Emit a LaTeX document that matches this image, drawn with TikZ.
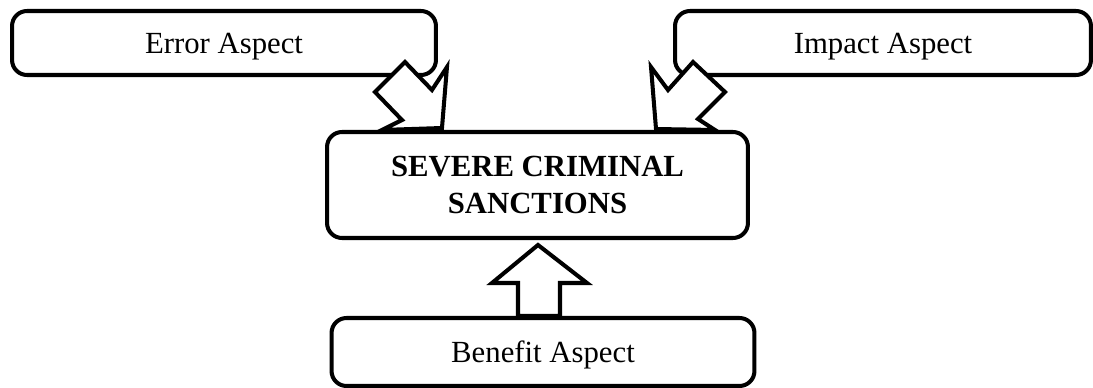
\documentclass[tikz,border=0pt]{standalone}
\usepackage{fontspec}
\setmainfont{Liberation Serif}
\usetikzlibrary{positioning}

\begin{document}
\begin{tikzpicture}[
    x=0.02cm, y=-0.02cm,
    aspectbox/.style={rectangle, rounded corners=0.3cm, draw=black, line width=2.3pt, minimum width=8.48cm, minimum height=1.28cm, inner sep=0pt, text depth=0pt, font=\fontsize{17.5}{21}\selectfont},
    mainbox/.style={aspectbox, minimum width=8.42cm, minimum height=2.12cm, align=center, font=\fontsize{17.5}{21}\selectfont\bfseries},
    blockarrow/.style={draw=black, fill=white, line width=2.3pt, line join=miter},
]
\useasboundingbox (0,0) rectangle (1093,388);
\node[aspectbox](error) at (224,43){Error Aspect};
\node[aspectbox, minimum width=8.32cm](impact) at (883,43){Impact Aspect};
\node[mainbox](sanctions) at (537.5,185){SEVERE CRIMINAL\\SANCTIONS};
\node[aspectbox, minimum width=8.46cm, minimum height=1.36cm](benefit) at (543,352){Benefit Aspect};
% block arrows into the main box
\draw[blockarrow, shift={(error.south east)}] (-33,-15) -- (-6,13) -- (9,-10) -- (4,51) -- (-56,53) -- (-36,43) -- (-63,15) -- cycle;
\draw[blockarrow, shift={(impact.south west)}] (20,-15) -- (-5,13) -- (-22,-10) -- (-17,52) -- (42,53) -- (25,42) -- (52,15) -- cycle;
\draw[blockarrow, shift={(benefit.north)}] (-25,0) -- (-25,-33) -- (-51,-33) -- (-5,-71) -- (44,-33) -- (17,-33) -- (17,0) -- cycle;
\end{tikzpicture}
\end{document}
